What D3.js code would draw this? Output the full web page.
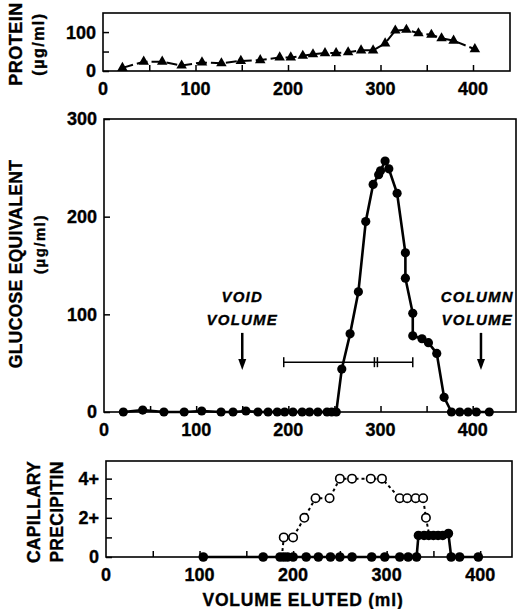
<!DOCTYPE html>
<html>
<head>
<meta charset="utf-8">
<script src="https://cdn.jsdelivr.net/npm/d3@7"></script>
<style>
  body { margin: 0; background: #fff; }
  svg { font-family: "Liberation Sans", Arial, sans-serif; font-weight: bold; }
  svg text { stroke: #000; stroke-width: 0.35px; }
</style>
</head>
<body>
<div id="chart"></div>
<script>
// protein (top panel)
const proteinVol = [21, 44, 64, 85, 107, 128, 149, 170, 191, 203, 216, 227, 240, 252, 265, 279, 292, 305, 316, 328, 341, 355, 366, 379, 402];
const proteinVal = [8, 24, 24, 14, 22, 20, 26, 28, 35, 35, 39, 43, 46, 46, 48, 53, 53, 71, 104, 106, 97, 93, 84, 78, 56];

// glucose equivalent (middle panel)
const glucoseVol = [21, 42, 65, 87, 106, 127, 140, 154, 167, 178, 188, 196, 205, 215, 223, 232, 242, 247, 252,
  258, 267, 276, 284, 292, 298, 300, 305, 309, 318, 327, 327, 335, 335, 345, 352, 361, 369, 377, 386, 395, 404, 418];
const glucoseVal = [0, 2, 0, 0, 1, 0, 0, 1, 0, 0, 0, 0, 0, 0, 0, 0, 0, 0, 0,
  44, 80, 123, 195, 233, 243, 247, 257, 249, 224, 163, 137, 101, 78, 75, 71, 60, 15, 0, 0, 0, 0, 0];

// capillary precipitin (bottom panel)
const openVol = [188, 190, 200, 212, 224, 239, 250, 263, 283, 295, 314, 322, 331, 339, 342, 346];
const openVal = [0, 1, 1, 2, 3, 3, 4, 4, 4, 4, 3, 3, 3, 3, 2, 1];
const filledVol = [104, 168, 186, 190, 194, 200, 214, 227, 240, 250, 263, 284, 298, 314, 323, 332,
  334, 340, 345, 350, 355, 360, 366, 369, 378, 398];
const filledVal = [0, 0, 0, 0, 0, 0, 0, 0, 0, 0, 0, 0, 0, 0, 0, 0,
  1.1, 1.1, 1.1, 1.1, 1.1, 1.1, 1.2, 0, 0, 0];

const xTicks = [50, 100, 150, 200, 250, 300, 350, 400];
const xLabels = [0, 100, 200, 300, 400];

// annotations (data units)
const voidVolume = 150, columnVolume = 409;
const errBar = { y: 51, x0: 195, x1: 335, mid: 295 };

const W = 527, H = 609;
const svg = d3.select('#chart').append('svg').attr('width', W).attr('height', H);

const line = (x, y) => d3.line().x(d => x(d[0])).y(d => y(d[1]));

function panel(box, xMax, yMax) {
  const x = d3.scaleLinear().domain([0, xMax]).range([box.left, box.right]);
  const y = d3.scaleLinear().domain([0, yMax]).range([box.bottom, box.top]);
  svg.append('rect')
    .attr('x', box.left).attr('y', box.top)
    .attr('width', box.right - box.left).attr('height', box.bottom - box.top)
    .attr('fill', 'none').attr('stroke', '#000').attr('stroke-width', 1.6);
  const gx = svg.append('g').attr('transform', `translate(0,${box.bottom})`)
    .call(d3.axisBottom(x).tickValues(xTicks).tickSize(-6).tickFormat(''));
  gx.select('.domain').remove();
  gx.selectAll('line').attr('stroke-width', 1.5);
  svg.append('g').selectAll('text').data(xLabels).enter().append('text')
    .attr('x', d => x(d)).attr('y', box.bottom + 24)
    .attr('text-anchor', 'middle').attr('font-size', 18).text(d => d);
  return { x, y };
}

function yAxis(p, box, ticks, fmt) {
  const gy = svg.append('g').attr('transform', `translate(${box.left},0)`)
    .call(d3.axisLeft(p.y).tickValues(ticks).tickSize(-6).tickFormat(''));
  gy.select('.domain').remove();
  gy.selectAll('line').attr('stroke-width', 1.5);
  svg.append('g').selectAll('text').data(ticks.filter(t => fmt(t) !== '')).enter().append('text')
    .attr('x', box.left - 7).attr('y', d => p.y(d)).attr('dy', '0.36em')
    .attr('text-anchor', 'end').attr('font-size', 18).text(d => fmt(d));
}

function vTitle(x, y, text, size, spacing) {
  svg.append('text').attr('transform', `translate(${x},${y}) rotate(-90)`)
    .attr('text-anchor', 'middle').attr('font-size', size)
    .attr('letter-spacing', spacing || 0).text(text);
}

// ---- top panel: protein
const topBox = { left: 103, right: 510, top: 13, bottom: 71 };
const pTop = panel(topBox, 440, 149);
yAxis(pTop, topBox, [0, 50, 100], d => d % 100 === 0 ? d : '');
const proteinPts = proteinVol.map((v, i) => [v, proteinVal[i]]);
svg.append('path').datum(proteinPts)
  .attr('d', line(pTop.x, pTop.y)).attr('fill', 'none')
  .attr('stroke', '#000').attr('stroke-width', 2).attr('stroke-dasharray', '11,4');
svg.append('g').selectAll('path').data(proteinPts).enter().append('path')
  .attr('d', d3.symbol().type(d3.symbolTriangle).size(48))
  .attr('transform', d => `translate(${pTop.x(d[0])},${pTop.y(d[1])})`);
vTitle(22, 44, 'PROTEIN', 18, 0.5);
vTitle(44, 44, '(µg/ml)', 16, 1.5);

// ---- middle panel: glucose
const midBox = { left: 104, right: 516, top: 119, bottom: 412 };
const pMid = panel(midBox, 447, 300);
yAxis(pMid, midBox, [0, 100, 200, 300], d => d);
const glucosePts = glucoseVol.map((v, i) => [v, glucoseVal[i]]);
svg.append('path').datum(glucosePts)
  .attr('d', line(pMid.x, pMid.y)).attr('fill', 'none')
  .attr('stroke', '#000').attr('stroke-width', 2.6);
svg.append('g').selectAll('circle').data(glucosePts).enter().append('circle')
  .attr('cx', d => pMid.x(d[0])).attr('cy', d => pMid.y(d[1])).attr('r', 4.6);
vTitle(22, 264, 'GLUCOSE EQUIVALENT', 17.5, 0.3);
vTitle(45, 244, '(µg/ml)', 15, 1.5);

// error bar
const eb = svg.append('g').attr('stroke', '#000').attr('stroke-width', 1.5);
eb.append('line').attr('x1', pMid.x(errBar.x0)).attr('x2', pMid.x(errBar.x1))
  .attr('y1', pMid.y(errBar.y)).attr('y2', pMid.y(errBar.y));
[errBar.x0, errBar.x1].forEach(v => eb.append('line')
  .attr('x1', pMid.x(v)).attr('x2', pMid.x(v))
  .attr('y1', pMid.y(errBar.y) - 5).attr('y2', pMid.y(errBar.y) + 5));
[-1.5, 1.5].forEach(o => eb.append('line')
  .attr('x1', pMid.x(errBar.mid) + o).attr('x2', pMid.x(errBar.mid) + o)
  .attr('y1', pMid.y(errBar.y) - 5).attr('y2', pMid.y(errBar.y) + 5));

// volume arrows
function arrow(v, label1, label2, labelAt) {
  const cx = pMid.x(v);
  svg.append('line').attr('x1', cx).attr('x2', cx)
    .attr('y1', pMid.y(81)).attr('y2', pMid.y(50))
    .attr('stroke', '#000').attr('stroke-width', 2.5);
  const tip = pMid.y(43);
  svg.append('path').attr('d', `M${cx - 4},${tip - 11}L${cx + 4},${tip - 11}L${cx},${tip}Z`);
  [[label1, 118], [label2, 95]].forEach(([t, yv]) => svg.append('text')
    .attr('x', pMid.x(labelAt)).attr('y', pMid.y(yv)).attr('dy', '0.36em')
    .attr('text-anchor', 'middle').attr('font-size', 15).attr('font-style', 'italic')
    .attr('letter-spacing', 1.2).text(t));
}
arrow(voidVolume, 'VOID', 'VOLUME', voidVolume);
arrow(columnVolume, 'COLUMN', 'VOLUME', 405);

// ---- bottom panel: capillary precipitin
const botBox = { left: 106, right: 512, top: 461, bottom: 557 };
const pBot = panel(botBox, 434, 4.9);
yAxis(pBot, botBox, [0, 1, 2, 3, 4], d => d === 0 ? '0' : d % 2 === 0 ? d + '+' : '');
const openPts = openVol.map((v, i) => [v, openVal[i]]);
const filledPts = filledVol.map((v, i) => [v, filledVal[i]]);
svg.append('path').datum(openPts)
  .attr('d', line(pBot.x, pBot.y)).attr('fill', 'none')
  .attr('stroke', '#000').attr('stroke-width', 2).attr('stroke-dasharray', '3,3');
svg.append('path').datum(filledPts)
  .attr('d', line(pBot.x, pBot.y)).attr('fill', 'none')
  .attr('stroke', '#000').attr('stroke-width', 2.6);
svg.append('g').selectAll('circle').data(openPts.slice(1, -1)).enter().append('circle')
  .attr('cx', d => pBot.x(d[0])).attr('cy', d => pBot.y(d[1])).attr('r', 4.2)
  .attr('fill', '#fff').attr('stroke', '#000').attr('stroke-width', 1.6);
svg.append('g').selectAll('circle').data(filledPts).enter().append('circle')
  .attr('cx', d => pBot.x(d[0])).attr('cy', d => pBot.y(d[1])).attr('r', 4.8);
vTitle(40, 512, 'CAPILLARY', 17.5, 0.3);
vTitle(63, 512, 'PRECIPITIN', 17.5, 0.3);
svg.append('text').attr('x', 303).attr('y', 600).attr('dy', '0.36em')
  .attr('text-anchor', 'middle').attr('font-size', 17.5).attr('letter-spacing', 0.8)
  .text('VOLUME ELUTED (ml)');
</script>
</body>
</html>
